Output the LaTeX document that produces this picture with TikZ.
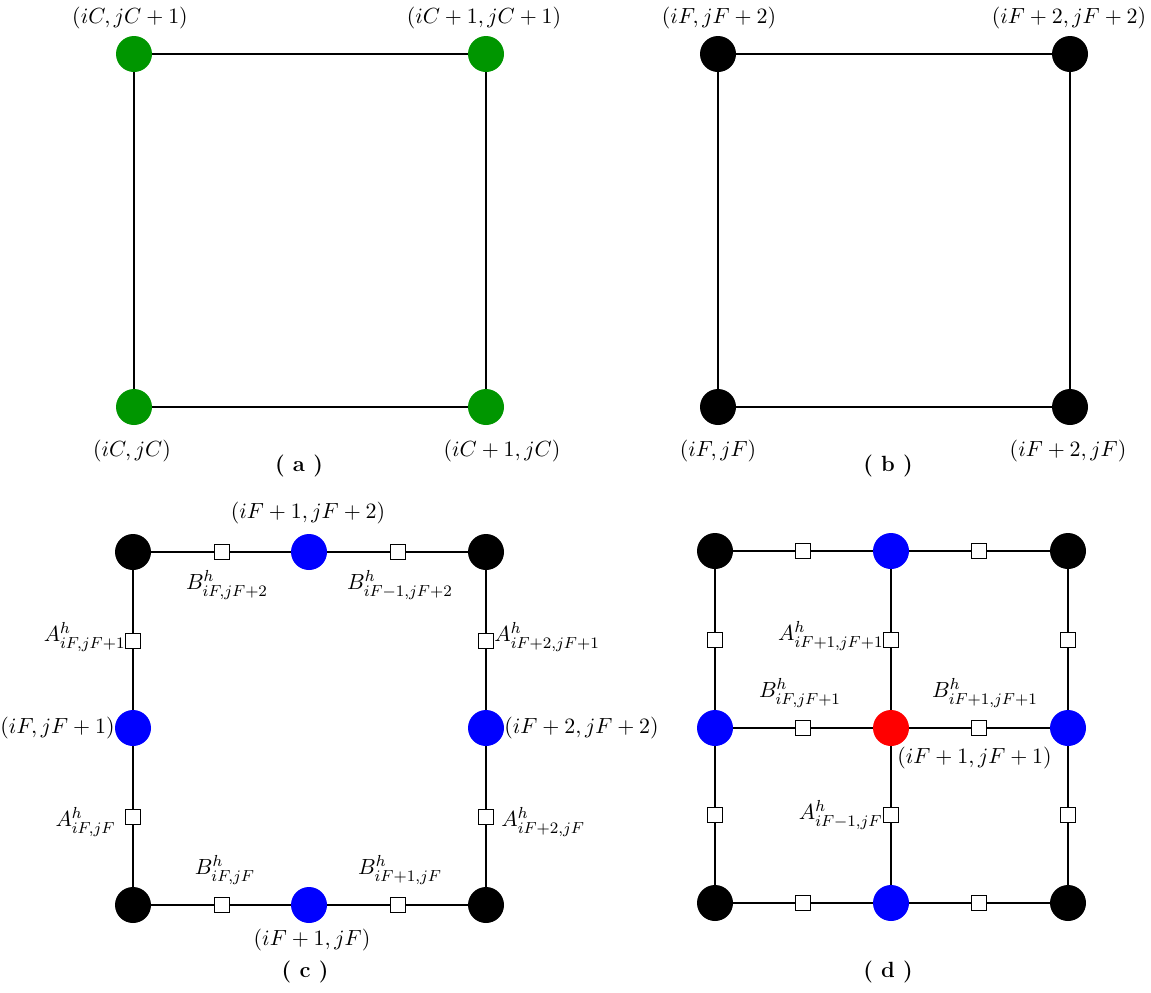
\documentclass[tikz,border=0pt]{standalone}
\definecolor{dgreen}{RGB}{0,150,0}
\tikzset{
  pt/.style={circle, inner sep=0pt, minimum size=18pt},
  gpt/.style={pt, fill=dgreen},
  kpt/.style={pt, fill=black},
  bpt/.style={pt, fill=blue},
  rpt/.style={pt, fill=red},
  sq/.style={draw, fill=white, rectangle, inner sep=0pt, minimum size=7.5pt, line width=0.6pt},
  lbl/.style={inner sep=0pt, font=\fontsize{11}{13}\selectfont},
  panelcap/.style={inner sep=0pt, font=\fontsize{11}{13}\selectfont\bfseries},
  ln/.style={line width=0.6pt}
}
\begin{document}
\begin{tikzpicture}[x=0.5pt,y=-0.5pt]
\useasboundingbox (0,0) rectangle (1151,992);

% ---------------- (a)
\node[gpt] (a1) at (134,54) {};
\node[gpt] (a2) at (486,54) {};
\node[gpt] (a3) at (134,407) {};
\node[gpt] (a4) at (486,407) {};
\draw[ln] (a1) -- (a2) -- (a4) -- (a3) -- (a1);
\node[lbl] (la1) at (130,18) {$(iC,jC+1)$};
\node[lbl] (la2) at (484,18) {$(iC+1,jC+1)$};
\node[lbl] (la3) at (132,451) {$(iC,jC)$};
\node[lbl] (la4) at (502,451) {$(iC+1,jC)$};
\node[panelcap] (ca) at (299,466) {( a )};

% ---------------- (b)
\node[kpt] (b1) at (718,54) {};
\node[kpt] (b2) at (1070,54) {};
\node[kpt] (b3) at (718,407) {};
\node[kpt] (b4) at (1070,407) {};
\draw[ln] (b1) -- (b2) -- (b4) -- (b3) -- (b1);
\node[lbl] (lb1) at (719,18) {$(iF,jF+2)$};
\node[lbl] (lb2) at (1069,18) {$(iF+2,jF+2)$};
\node[lbl] (lb3) at (718,451) {$(iF,jF)$};
\node[lbl] (lb4) at (1068,451) {$(iF+2,jF)$};
\node[panelcap] (cb) at (888,466) {( b )};

% ---------------- (c)
\node[kpt] (c1) at (133,552) {};
\node[kpt] (c2) at (486,552) {};
\node[kpt] (c3) at (133,905) {};
\node[kpt] (c4) at (486,905) {};
\node[bpt] (cT) at (309,552) {};
\node[bpt] (cL) at (133,728) {};
\node[bpt] (cR) at (486,728) {};
\node[bpt] (cB) at (309,905) {};
\node[sq] (cs1) at (222,552) {};
\node[sq] (cs2) at (398,552) {};
\node[sq] (cs3) at (222,905) {};
\node[sq] (cs4) at (398,905) {};
\node[sq] (cs5) at (133,641) {};
\node[sq] (cs6) at (133,817) {};
\node[sq] (cs7) at (486,641) {};
\node[sq] (cs8) at (486,817) {};
\draw[ln] (c1) -- (cs1) -- (cT) -- (cs2) -- (c2);
\draw[ln] (c3) -- (cs3) -- (cB) -- (cs4) -- (c4);
\draw[ln] (c1) -- (cs5) -- (cL) -- (cs6) -- (c3);
\draw[ln] (c2) -- (cs7) -- (cR) -- (cs8) -- (c4);
\node[lbl] (lc1) at (308,513) {$(iF+1,jF+2)$};
\node[lbl] (lc2) at (227,585) {$B^h_{iF,jF+2}$};
\node[lbl] (lc3) at (400,585) {$B^h_{iF-1,jF+2}$};
\node[lbl, anchor=east] (lc4) at (126,637) {$A^h_{iF,jF+1}$};
\node[lbl, anchor=east] (lc5) at (115,728) {$(iF,jF+1)$};
\node[lbl, anchor=east] (lc6) at (116,822) {$A^h_{iF,jF}$};
\node[lbl, anchor=west] (lc7) at (494,637) {$A^h_{iF+2,jF+1}$};
\node[lbl, anchor=west] (lc8) at (504,728) {$(iF+2,jF+2)$};
\node[lbl, anchor=west] (lc9) at (501,822) {$A^h_{iF+2,jF}$};
\node[lbl] (lc10) at (225,870) {$B^h_{iF,jF}$};
\node[lbl] (lc11) at (400,870) {$B^h_{iF+1,jF}$};
\node[lbl] (lc12) at (312,940) {$(iF+1,jF)$};
\node[panelcap] (cc) at (305,972) {( c )};

% ---------------- (d)
\node[kpt] (d1) at (715,551) {};
\node[kpt] (d2) at (1068,551) {};
\node[kpt] (d3) at (715,903) {};
\node[kpt] (d4) at (1068,903) {};
\node[bpt] (dT) at (891,551) {};
\node[bpt] (dL) at (715,728) {};
\node[bpt] (dR) at (1068,728) {};
\node[bpt] (dB) at (891,903) {};
\node[rpt] (dC) at (891,728) {};
\node[sq] (ds1) at (803,551) {};
\node[sq] (ds2) at (979,551) {};
\node[sq] (ds3) at (803,728) {};
\node[sq] (ds4) at (979,728) {};
\node[sq] (ds5) at (803,903) {};
\node[sq] (ds6) at (979,903) {};
\node[sq] (ds7) at (715,640) {};
\node[sq] (ds8) at (715,815) {};
\node[sq] (ds9) at (891,640) {};
\node[sq] (ds10) at (891,815) {};
\node[sq] (ds11) at (1068,640) {};
\node[sq] (ds12) at (1068,815) {};
\draw[ln] (d1) -- (ds1) -- (dT) -- (ds2) -- (d2);
\draw[ln] (dL) -- (ds3) -- (dC) -- (ds4) -- (dR);
\draw[ln] (d3) -- (ds5) -- (dB) -- (ds6) -- (d4);
\draw[ln] (d1) -- (ds7) -- (dL) -- (ds8) -- (d3);
\draw[ln] (dT) -- (ds9) -- (dC) -- (ds10) -- (dB);
\draw[ln] (d2) -- (ds11) -- (dR) -- (ds12) -- (d4);
\node[lbl, anchor=east] (ld1) at (884,636) {$A^h_{iF+1,jF+1}$};
\node[lbl] (ld2) at (800,693) {$B^h_{iF,jF+1}$};
\node[lbl] (ld3) at (985,693) {$B^h_{iF+1,jF+1}$};
\node[lbl, anchor=west] (ld4) at (897,758) {$(iF+1,jF+1)$};
\node[lbl, anchor=east] (ld5) at (883,815) {$A^h_{iF-1,jF}$};
\node[panelcap] (cd) at (888,972) {( d )};
\end{tikzpicture}
\end{document}
